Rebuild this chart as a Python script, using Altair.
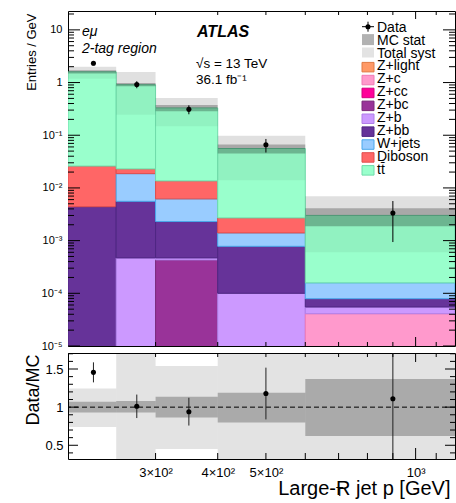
import altair as alt
import pandas as pd

# ---------------- data ----------------
bin_lo = [200, 250, 300, 400, 600]
bin_hi = [250, 300, 400, 600, 1200]
bin_center = [225, 275, 350, 500, 900]

processes = ["Z+light", "Z+c", "Z+cc", "Z+bc", "Z+b", "Z+bb", "W+jets", "Diboson", "tt\u0304"]
fill_colors = ["#ff9966", "#ff99cc", "#ff0099", "#993399", "#cc99ff", "#663399", "#99ccff", "#ff6666", "#99ffcc"]
edge_colors = ["#e07a45", "#f07ab4", "#d4007f", "#7a2a7a", "#b07ee8", "#4e2683", "#4aa8ec", "#e04d4d", "#6fdcaa"]

z_light = [0, 0, 0, 0, 0]
z_c = [0, 0, 0, 0, 4.1e-5]
z_cc = [0, 0, 0, 0, 0]
z_bc = [0, 0, 4.3e-4, 0, 0]
z_b = [0, 4.7e-4, 4.0e-5, 1.0e-4, 1.4e-5]
z_bb = [4.4e-3, 5.1e-3, 1.83e-3, 6.8e-4, 2.4e-5]
w_jets = [0, 1.31e-2, 3.9e-3, 6.2e-4, 7.9e-5]
diboson = [2.16e-2, 4.3e-3, 7.4e-3, 1.3e-3, 0]
ttbar = [1.574, 0.887, 0.316, 5.33e-2, 2.85e-3]

data_vals = [2.33, 0.92, 0.31, 0.066, 0.00334]
data_err_lo = [0.21, 0.14, 0.06, 0.019, 0.0024]
data_err_hi = [0.21, 0.14, 0.06, 0.019, 0.0023]

mcstat_rel_lo = [0.93, 0.93, 0.865, 0.80, 0.62]
mcstat_rel_hi = [1.07, 1.08, 1.135, 1.19, 1.37]
syst_rel_lo = [0.74, 0.27, 0.45, 0.25, 0.20]
syst_rel_hi = [1.245, 1.75, 1.54, 1.75, 2.30]

y_main_ticks = [1e-5, 1e-4, 1e-3, 1e-2, 1e-1, 1, 10]
x_label_ticks = [300, 400, 500, 1000]
ratio_label_ticks = [0.5, 1, 1.5]

legend_extra = ["Data", "MC stat", "Total syst"]

# ---------------- layout constants ----------------
FONT = "Liberation Sans"
W = 387
H_MAIN = 335
H_RATIO = 106
Y_TOP = 22.8

components = [z_light, z_c, z_cc, z_bc, z_b, z_bb, w_jets, diboson, ttbar]

# ---------------- tables ----------------
stack_rows = []
mc_total = []
for i in range(len(bin_lo)):
    cum = 0.0
    for p, comp in zip(processes, components):
        v = comp[i]
        if v > 0:
            stack_rows.append(dict(proc=p, lo=bin_lo[i], hi=bin_hi[i],
                                   y0=max(cum, 1e-7), y1=cum + v))
            cum += v
    mc_total.append(cum)
stack_df = pd.DataFrame(stack_rows)

band_df = pd.DataFrame(dict(
    lo=bin_lo, hi=bin_hi, mc=mc_total,
    rs_lo=mcstat_rel_lo, rs_hi=mcstat_rel_hi,
    rt_lo=syst_rel_lo, rt_hi=syst_rel_hi,
))
band_df["s_lo"] = band_df.mc * band_df.rs_lo
band_df["s_hi"] = band_df.mc * band_df.rs_hi
band_df["t_lo"] = band_df.mc * band_df.rt_lo
band_df["t_hi"] = band_df.mc * band_df.rt_hi

data_df = pd.DataFrame(dict(x=bin_center, y=data_vals, elo=data_err_lo, ehi=data_err_hi, mc=mc_total))
data_df["y_lo"] = data_df.y - data_df.elo
data_df["y_hi"] = data_df.y + data_df.ehi
data_df["r"] = data_df.y / data_df.mc
data_df["r_lo"] = data_df.y_lo / data_df.mc
data_df["r_hi"] = data_df.y_hi / data_df.mc

# ---------------- scales & axes ----------------
xs = alt.Scale(type="log", domain=[200, 1200], nice=False)
ys = alt.Scale(type="log", domain=[1e-5, Y_TOP], nice=False)
ysr = alt.Scale(domain=[0.32, 1.71], nice=False, zero=False)

YM = alt.Axis(
    values=y_main_ticks, ticks=False, domain=False, grid=False,
    labelFont=FONT, labelFontSize=11, labelPadding=6, labelColor="black",
    labelExpr="datum.value >= 10 ? '10' : datum.value >= 1 ? '1' : '10' + ['', '\u207b\u00b9', '\u207b\u00b2', '\u207b\u00b3', '\u207b\u2074', '\u207b\u2075'][round(-log(datum.value)/LN10)]",
    title="Entries / GeV", titleFont=FONT, titleFontSize=13, titleFontWeight="normal",
    titleColor="black", titleX=-33, titleY=2, titleAlign="right", titleBaseline="alphabetic", titleAngle=270,
)
YR = alt.Axis(
    values=ratio_label_ticks, ticks=False, domain=False, grid=False,
    labelFont=FONT, labelFontSize=13, labelPadding=5, labelColor="black",
    labelExpr="datum.value == 1 ? '1' : format(datum.value, '.1f')",
    title="Data/MC", titleFont=FONT, titleFontSize=18, titleFontWeight="normal",
    titleColor="black", titleX=-30, titleY=1, titleAlign="right", titleBaseline="alphabetic", titleAngle=270,
)
XR = alt.Axis(
    values=x_label_ticks, ticks=False, domain=False, grid=False,
    labelFont=FONT, labelFontSize=13, labelPadding=7, labelColor="black",
    labelExpr="datum.value == 1000 ? '10\u00b3' : (datum.value/100) + '\u00d710\u00b2'",
    title="Large-R jet p    [GeV]", titleFont=FONT, titleFontSize=20, titleFontWeight="normal",
    titleColor="black", titleX=382, titleY=35, titleAlign="right", titleBaseline="alphabetic",
)


def yticks(vals, scale, axis, length):
    df = pd.DataFrame({"v": vals})
    base = alt.Chart(df).mark_rule(color="black", strokeWidth=1)
    return [
        base.encode(y=alt.Y("v:Q", scale=scale, axis=axis), x=alt.value(0), x2=alt.value(length)),
        base.encode(y=alt.Y("v:Q", scale=scale, axis=axis), x=alt.value(W), x2=alt.value(W - length)),
    ]


def xticks(vals, axis, length_bottom, length_top, H):
    df = pd.DataFrame({"v": vals})
    base = alt.Chart(df).mark_rule(color="black", strokeWidth=1)
    return [
        base.encode(x=alt.X("v:Q", scale=xs, axis=axis), y=alt.value(H), y2=alt.value(H - length_bottom)),
        base.encode(x=alt.X("v:Q", scale=xs, axis=axis), y=alt.value(0), y2=alt.value(length_top)),
    ]


def text(s, x, y, size, style="normal", weight="normal", align="left"):
    return alt.Chart(pd.DataFrame({"a": [0]})).mark_text(
        font=FONT, fontSize=size, fontStyle=style, fontWeight=weight, align=align,
        baseline="alphabetic", color="black",
    ).encode(x=alt.value(x), y=alt.value(y), text=alt.value(s))


def box(x0, x1, y0, y1, fill, stroke=None, opacity=1.0):
    kw = dict(fill=fill, opacity=opacity)
    if stroke:
        kw.update(stroke=stroke, strokeWidth=1)
    else:
        kw.update(strokeWidth=0)
    return alt.Chart(pd.DataFrame({"a": [0]})).mark_rect(**kw).encode(
        x=alt.value(x0), x2=alt.value(x1), y=alt.value(y0), y2=alt.value(y1))


def seg(x0, x1, y0, y1):
    return alt.Chart(pd.DataFrame({"a": [0]})).mark_rule(color="black", strokeWidth=1).encode(
        x=alt.value(x0), x2=alt.value(x1), y=alt.value(y0), y2=alt.value(y1))


# ---------------- main panel ----------------
stack = alt.Chart(stack_df).mark_rect(clip=True, strokeWidth=1).encode(
    x=alt.X("lo:Q", scale=xs, axis=None), x2="hi:Q",
    y=alt.Y("y0:Q", scale=ys, axis=YM), y2="y1:Q",
    fill=alt.Fill("proc:N", scale=alt.Scale(domain=processes, range=fill_colors), legend=None),
    stroke=alt.Stroke("proc:N", scale=alt.Scale(domain=processes, range=edge_colors), legend=None),
)
# total syst: stronger above the stack top (over white), faint inside the stack
syst_up = alt.Chart(band_df).mark_rect(clip=True, fill="black", opacity=0.12, strokeWidth=0).encode(
    x=alt.X("lo:Q", scale=xs, axis=None), x2="hi:Q",
    y=alt.Y("mc:Q", scale=ys, axis=YM), y2="t_hi:Q")
syst_dn = alt.Chart(band_df).mark_rect(clip=True, fill="black", opacity=0.05, strokeWidth=0).encode(
    x=alt.X("lo:Q", scale=xs, axis=None), x2="hi:Q",
    y=alt.Y("t_lo:Q", scale=ys, axis=YM), y2="mc:Q")
stat_band = alt.Chart(band_df).mark_rect(clip=True, fill="black", opacity=0.25, strokeWidth=0).encode(
    x=alt.X("lo:Q", scale=xs, axis=None), x2="hi:Q",
    y=alt.Y("s_lo:Q", scale=ys, axis=YM), y2="s_hi:Q")
err = alt.Chart(data_df).mark_rule(color="black", strokeWidth=1, clip=True).encode(
    x=alt.X("x:Q", scale=xs, axis=None), y=alt.Y("y_lo:Q", scale=ys, axis=YM), y2="y_hi:Q")
pts = alt.Chart(data_df).mark_circle(color="black", opacity=1, size=26).encode(
    x=alt.X("x:Q", scale=xs, axis=None), y=alt.Y("y:Q", scale=ys, axis=YM))

main_minor_y = [k * 10.0 ** n for n in range(-5, 2) for k in range(2, 10) if k * 10.0 ** n < Y_TOP]
main_ticks = (yticks(y_main_ticks, ys, YM, 12) + yticks(main_minor_y, ys, YM, 6)
              + xticks([300, 400, 500, 600, 700, 800, 900, 1100], None, 4, 4, H_MAIN)
              + xticks([1000], None, 9, 8, H_MAIN))

annots = [
    text("e\u03bc", 14, 25, 14, style="italic"),
    text("2-tag region", 14, 41.7, 14, style="italic"),
    text("ATLAS", 129, 26, 16, style="italic", weight="bold"),
    text("\u221as = 13 TeV", 128, 57, 13.5),
    text("36.1 fb\u207b\u00b9", 128, 72.5, 13.5),
]

# legend
LX0, LX1, LT = 294, 306, 309
row_y = [15.7 + 12.9 * i for i in range(len(legend_extra) + len(processes))]
legend = []
legend += [seg(LX0, LX1, row_y[0], row_y[0]), seg(300, 300, row_y[0] - 5, row_y[0] + 5)]
legend.append(alt.Chart(pd.DataFrame({"a": [0]})).mark_circle(color="black", opacity=1, size=26).encode(
    x=alt.value(300), y=alt.value(row_y[0])))
legend.append(box(LX0, LX1, row_y[1] - 5.5, row_y[1] + 5.5, "black", opacity=0.3))
legend.append(box(LX0, LX1, row_y[2] - 5, row_y[2] + 5, "black", opacity=0.11))
for j, lab in enumerate(legend_extra):
    legend.append(text(lab, LT, row_y[j] + 5, 14))
for k, p in enumerate(processes):
    r = row_y[k + 3]
    legend.append(box(LX0, LX1, r - 3, r + 6.5, fill_colors[k], edge_colors[k]))
    legend.append(text(p, LT, r + 5, 14))

main = alt.layer(stack, syst_dn, syst_up, stat_band, err, pts, *main_ticks, *annots, *legend).properties(
    width=W, height=H_MAIN)

# ---------------- ratio panel ----------------
r_syst = alt.Chart(band_df).mark_rect(clip=True, fill="black", opacity=0.11, strokeWidth=0).encode(
    x=alt.X("lo:Q", scale=xs, axis=XR), x2="hi:Q",
    y=alt.Y("rt_lo:Q", scale=ysr, axis=YR), y2="rt_hi:Q")
r_stat = alt.Chart(band_df).mark_rect(clip=True, fill="black", opacity=0.25, strokeWidth=0).encode(
    x=alt.X("lo:Q", scale=xs, axis=XR), x2="hi:Q",
    y=alt.Y("rs_lo:Q", scale=ysr, axis=YR), y2="rs_hi:Q")
one = alt.Chart(pd.DataFrame({"one": [1.0]})).mark_rule(color="black", strokeWidth=1, strokeDash=[5, 3]).encode(
    y=alt.Y("one:Q", scale=ysr, axis=YR))
r_err = alt.Chart(data_df).mark_rule(color="#222222", strokeWidth=1, clip=True).encode(
    x=alt.X("x:Q", scale=xs, axis=XR), y=alt.Y("r_lo:Q", scale=ysr, axis=YR), y2="r_hi:Q")
r_pts = alt.Chart(data_df).mark_circle(color="black", opacity=1, size=26).encode(
    x=alt.X("x:Q", scale=xs, axis=XR), y=alt.Y("r:Q", scale=ysr, axis=YR))

ratio_ticks = (yticks([0.5, 1.0, 1.5], ysr, YR, 10)
               + yticks([0.4, 0.6, 0.7, 0.8, 0.9, 1.1, 1.2, 1.3, 1.4, 1.6, 1.7], ysr, YR, 5)
               + xticks([300, 400, 500, 600, 700, 800, 900, 1100], XR, 6, 4, H_RATIO)
               + xticks([1000], XR, 11, 9, H_RATIO))
sub_t = text("T", 268, 143, 12)

ratio = alt.layer(r_syst, r_stat, one, r_err, r_pts, *ratio_ticks, sub_t).properties(width=W, height=H_RATIO)

chart = alt.vconcat(main, ratio, spacing=7, bounds="flush").properties(
    padding={"left": 23, "top": 10, "right": 0, "bottom": 0},
    background="white",
).configure_view(stroke="black", strokeWidth=1)

chart.save("out.html", embed_options={"renderer": "svg", "actions": False})
